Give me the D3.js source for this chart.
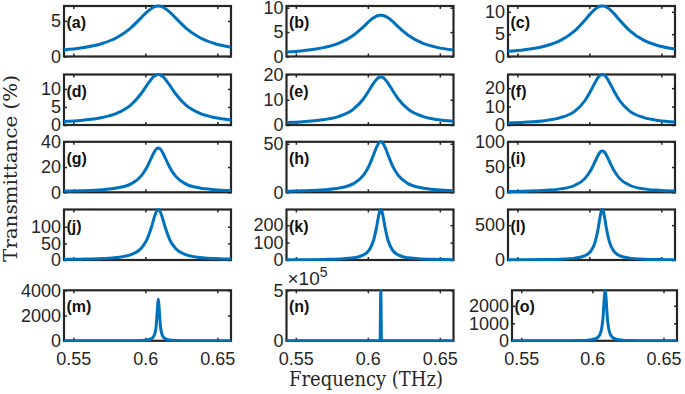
<!DOCTYPE html>
<html>
<head>
<meta charset="utf-8">
<script src="https://cdn.jsdelivr.net/npm/d3@7"></script>
<style>
  body { margin: 0; background: #fff; }
  svg { display: block; }
</style>
</head>
<body>
<div id="chart"></div>
<script>
// frequency grid (THz)
var freq = [0.5435, 0.555, 0.57, 0.58, 0.59, 0.597, 0.601, 0.604, 0.606, 0.6075, 0.6085,
            0.609, 0.6095, 0.6105, 0.612, 0.614, 0.617, 0.621, 0.628, 0.638, 0.648, 0.6595];

// transmittance (%)
var transA = [0.93, 1.19, 1.83, 2.64, 4.04, 5.43, 6.24, 6.73, 6.96, 7.07, 7.10, 7.10, 7.10, 7.07, 6.96, 6.73, 6.24, 5.43, 4.04, 2.64, 1.83, 1.30];
var transB = [0.93, 1.2, 1.87, 2.75, 4.37, 6.12, 7.23, 7.92, 8.25, 8.39, 8.44, 8.45, 8.44, 8.39, 8.25, 7.92, 7.23, 6.12, 4.37, 2.75, 1.87, 1.31];
var transC = [1.15, 1.51, 2.41, 3.6, 5.8, 8.17, 9.65, 10.59, 11.03, 11.23, 11.29, 11.3, 11.29, 11.23, 11.03, 10.59, 9.65, 8.17, 5.8, 3.6, 2.41, 1.66];
var transD = [0.98, 1.28, 2.07, 3.19, 5.56, 8.66, 10.97, 12.63, 13.47, 13.86, 13.98, 14.0, 13.98, 13.86, 13.47, 12.63, 10.97, 8.66, 5.56, 3.19, 2.07, 1.41];
var transE = [1.01, 1.32, 2.17, 3.42, 6.27, 10.4, 13.86, 16.59, 18.05, 18.76, 18.97, 19.0, 18.97, 18.76, 18.05, 16.59, 13.86, 10.4, 6.27, 3.42, 2.17, 1.46];
var transF = [1.11, 1.48, 2.47, 3.99, 7.56, 13.28, 18.57, 23.09, 25.67, 26.95, 27.35, 27.4, 27.35, 26.95, 25.67, 23.09, 18.57, 13.28, 7.56, 3.99, 2.47, 1.64];
var transG = [0.94, 1.24, 2.06, 3.35, 6.65, 12.79, 19.7, 26.81, 31.53, 34.06, 34.89, 35.0, 34.89, 34.06, 31.53, 26.81, 19.7, 12.79, 6.65, 3.35, 2.06, 1.37];
var transH = [1.16, 1.55, 2.64, 4.39, 8.92, 17.57, 27.7, 38.71, 46.26, 50.45, 51.82, 52.0, 51.82, 50.45, 46.26, 38.71, 27.7, 17.57, 8.92, 4.39, 2.64, 1.72];
var transI = [1.66, 2.28, 4.0, 6.76, 13.93, 27.59, 43.6, 61.0, 72.93, 79.55, 81.72, 82.0, 81.72, 79.55, 72.93, 61.0, 43.6, 27.59, 13.93, 6.76, 4.0, 2.55];
var transJ = [1.78, 2.47, 4.4, 7.55, 16.2, 34.72, 60.62, 95.57, 125.36, 144.32, 151.1, 152.0, 151.1, 144.32, 125.36, 95.57, 60.62, 34.72, 16.2, 7.55, 4.4, 2.77];
var transK = [1.38, 1.88, 3.32, 5.71, 12.6, 29.27, 58.24, 113.34, 185.71, 254.28, 285.54, 290.0, 285.54, 254.28, 185.71, 113.34, 58.24, 29.27, 12.6, 5.71, 3.32, 2.1];
var transL = [2.6, 3.68, 6.76, 11.9, 26.75, 63.2, 128.0, 256.7, 437.5, 622.7, 712.0, 725.0, 712.0, 622.7, 437.5, 256.7, 128.0, 63.2, 26.75, 11.9, 6.76, 4.17];
var transM = [0.93, 1.37, 2.62, 4.75, 11.0, 27.5, 61.2, 152.5, 391, 1154, 2735, 3300, 2735, 1154, 391, 152.5, 61.2, 27.5, 11.0, 4.75, 2.62, 1.56];
var transN = [1, 1, 2, 3, 7, 17, 39, 100, 278, 2212, 19230, 500000, 19230, 2212, 278, 100, 39, 17, 7, 3, 2, 1];
var transO = [1.32, 1.94, 3.7, 6.7, 15.6, 38.7, 85.5, 209.4, 515, 1341, 2554, 2880, 2554, 1341, 515, 209.4, 85.5, 38.7, 15.6, 6.7, 3.7, 2.21];

var panelNames = ["(a)", "(b)", "(c)", "(d)", "(e)", "(f)", "(g)", "(h)", "(i)", "(j)", "(k)", "(l)", "(m)", "(n)", "(o)"];
var yMax = [7.1, 10.35, 11.3, 14, 20, 27.4, 40, 52, 100, 152, 290, 725, 4000, 500000, 2880];
var yTicks = [[0, 5], [0, 5, 10], [0, 5, 10], [0, 5, 10], [0, 10, 20], [0, 10, 20],
              [0, 20, 40], [0, 50], [0, 50, 100], [0, 50, 100], [0, 100, 200], [0, 500],
              [0, 2000, 4000], [0, 500000], [0, 1000, 2000]];
var xTicks = [0.55, 0.6, 0.65];
var xDomain = [0.5435, 0.6595];

var series = [transA, transB, transC, transD, transE, transF, transG, transH,
              transI, transJ, transK, transL, transM, transN, transO];

var W = 685, H = 394;
var colLeft = [64, 286.5, 508], pw = 167;
var rowTop = [6, 74.5, 141.8, 209.5, 290.3], ph = 50.5;
var tickFont = "'Liberation Sans', Arial, Helvetica, sans-serif";
var serif = "'DejaVu Serif', 'Liberation Serif', serif";
var ink = "#262626";

var svg = d3.select("#chart").append("svg")
    .attr("width", W)
    .attr("height", H);

var defs = svg.append("defs");

series.forEach(function(vals, i) {
  var r = Math.floor(i / 3), c = i % 3;
  // last panel of the right column sits a little narrower
  var px = colLeft[c], w = pw;
  if (i == 14) { px = 512; w = 165; }

  var x = d3.scaleLinear().domain(xDomain).range([0, w]);
  var y = d3.scaleLinear().domain([0, yMax[i]]).range([ph, 0]);

  var g = svg.append("g")
      .attr("transform", "translate(" + px + "," + rowTop[r] + ")");

  // ticks inside the box, on all four sides
  var fmt = i == 13 ? function(d) { return d / 1e5; } : function(d) { return d; };
  var left = g.append("g")
      .call(d3.axisLeft(y).tickValues(yTicks[i]).tickSizeInner(-3).tickSizeOuter(0).tickPadding(3).tickFormat(fmt));
  var right = g.append("g").attr("transform", "translate(" + w + ",0)")
      .call(d3.axisRight(y).tickValues(yTicks[i]).tickSizeInner(-3).tickSizeOuter(0).tickFormat(""));
  var bottom = g.append("g").attr("transform", "translate(0," + ph + ")")
      .call(d3.axisBottom(x).tickValues(xTicks).tickSizeInner(-3).tickSizeOuter(0).tickPadding(11)
        .tickFormat(r == 4 ? function(d) { return d; } : ""));
  var top = g.append("g")
      .call(d3.axisTop(x).tickValues(xTicks).tickSizeInner(-3).tickSizeOuter(0).tickFormat(""));

  [left, right, bottom, top].forEach(function(a) {
    a.select(".domain").remove();
    a.selectAll("line").attr("stroke", ink).attr("stroke-width", 1.5);
    a.selectAll("text").attr("fill", ink).style("font-family", tickFont).style("font-size", "18px");
  });

  g.append("rect")
      .attr("width", w)
      .attr("height", ph)
      .attr("fill", "none")
      .attr("stroke", ink)
      .attr("stroke-width", 2.2);

  defs.append("clipPath").attr("id", "clip" + i)
    .append("rect")
      .attr("x", -1).attr("y", -2)
      .attr("width", w + 2).attr("height", ph + 3);

  var line = d3.line()
      .x(function(d, k) { return x(freq[k]); })
      .y(function(d) { return y(d); })
      .curve(d3.curveMonotoneX);

  g.append("path")
      .datum(vals)
      .attr("clip-path", "url(#clip" + i + ")")
      .attr("d", line)
      .attr("fill", "none")
      .attr("stroke", "#0072BD")
      .attr("stroke-width", 3)
      .attr("stroke-linejoin", "round");

  g.append("text")
      .attr("x", 2.5)
      .attr("y", 22)
      .attr("fill", "#111")
      .style("font-family", tickFont)
      .style("font-weight", "bold")
      .style("font-size", "16px")
      .text(panelNames[i]);

  if (i == 13) {
    var ex = g.append("text")
        .attr("x", 1)
        .attr("y", -5)
        .attr("fill", ink)
        .style("font-family", tickFont);
    ex.append("tspan").style("font-size", "19px").text("\u00d710");
    ex.append("tspan").attr("dy", -8).style("font-size", "14px").text("5");
  }
});

// axis titles
svg.append("text")
    .attr("x", 366)
    .attr("y", 386)
    .attr("text-anchor", "middle")
    .attr("fill", ink)
    .style("font-family", serif)
    .style("font-size", "20px")
    .attr("textLength", 154)
    .attr("lengthAdjust", "spacingAndGlyphs")
    .text("Frequency (THz)");

svg.append("text")
    .attr("transform", "translate(17,168.5) rotate(-90)")
    .attr("text-anchor", "middle")
    .attr("fill", ink)
    .style("font-family", serif)
    .style("font-size", "19px")
    .attr("textLength", 187)
    .attr("lengthAdjust", "spacingAndGlyphs")
    .text("Transmittance (%)");
</script>
</body>
</html>
